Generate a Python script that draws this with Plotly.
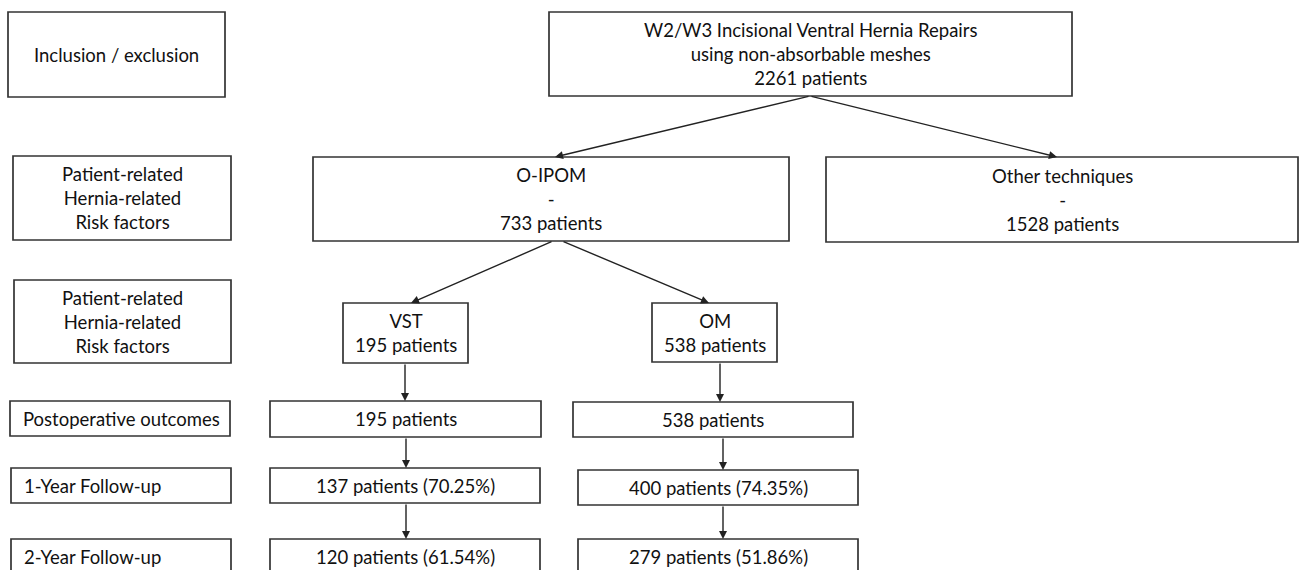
import plotly.graph_objects as go

# ---- data ----
stage_labels = [
    "Inclusion / exclusion",
    "Patient-related<br>Hernia-related<br>Risk factors",
    "Patient-related<br>Hernia-related<br>Risk factors",
    "Postoperative outcomes",
    "1-Year Follow-up",
    "2-Year Follow-up",
]
total_title = "W2/W3 Incisional Ventral Hernia Repairs<br>using non-absorbable meshes"
total_patients = 2261
group_names = ["O-IPOM", "Other techniques"]
group_counts = [733, 1528]
subgroup_names = ["VST", "OM"]
subgroup_counts = [195, 538]
postop_counts = [195, 538]
fu1_counts = [137, 400]
fu1_pct = [70.25, 74.35]
fu2_counts = [120, 279]
fu2_pct = [61.54, 51.86]

# ---- layout geometry (pixels; x right, y down) ----
W, H = 1301, 570
FONT = dict(family="Lato, 'Open Sans', sans-serif", size=18.5, color="#111111")
LINE = dict(color="#333333", width=1.7)

stage_boxes = [
    (8, 12, 225, 97),
    (13, 156, 231, 240),
    (14, 280, 231, 363),
    (10, 401, 230, 436),
    (11, 468, 231, 503),
    (11, 539, 231, 580),
]
stage_align = ["center", "center", "center", "left", "left", "left"]

top_box = (549, 12, 1072, 96)
group_boxes = [(313, 157, 789, 241), (826, 157, 1298, 242)]
sub_boxes = [(343, 303, 468, 363), (652, 303, 777, 362)]
postop_boxes = [(270, 401, 541, 437), (573, 402, 853, 437)]
fu1_boxes = [(270, 468, 540, 503), (578, 470, 858, 505)]
fu2_boxes = [(270, 539, 540, 580), (578, 539, 858, 580)]

fig = go.Figure()
shapes = []
annotations = []


def box(b, text, align="center"):
    x0, y0, x1, y1 = b
    shapes.append(dict(type="rect", xref="x", yref="y", x0=x0, y0=y0, x1=x1, y1=y1,
                       line=LINE, fillcolor="rgba(0,0,0,0)", layer="above"))
    yc = (y0 + y1) / 2
    if y1 > H:
        yc = y0 + 18
    if align == "center":
        annotations.append(dict(x=(x0 + x1) / 2, y=yc, xref="x", yref="y", text=text,
                                showarrow=False, font=FONT, xanchor="center",
                                yanchor="middle", align="center"))
    else:
        annotations.append(dict(x=x0 + 11, y=yc, xref="x", yref="y", text=text,
                                showarrow=False, font=FONT, xanchor="left",
                                yanchor="middle", align="left"))


def arrow(x0, y0, x1, y1):
    annotations.append(dict(x=x1, y=y1, ax=x0, ay=y0, xref="x", yref="y",
                            axref="x", ayref="y", text="", showarrow=True,
                            arrowhead=2, arrowsize=1.15, arrowwidth=1.4,
                            arrowcolor="#222222", standoff=0))


for b, t, a in zip(stage_boxes, stage_labels, stage_align):
    box(b, t, a)

box(top_box, f"{total_title}<br>{total_patients} patients")
for b, n, c in zip(group_boxes, group_names, group_counts):
    box(b, f"{n}<br>-<br>{c} patients")
for b, n, c in zip(sub_boxes, subgroup_names, subgroup_counts):
    box(b, f"{n}<br>{c} patients")
for b, c in zip(postop_boxes, postop_counts):
    box(b, f"{c} patients")
for b, c, p in zip(fu1_boxes, fu1_counts, fu1_pct):
    box(b, f"{c} patients ({p:.2f}%)")
for b, c, p in zip(fu2_boxes, fu2_counts, fu2_pct):
    box(b, f"{c} patients ({p:.2f}%)")

# arrows
arrow(810, 96, 555, 157)
arrow(810, 96, 1057, 157)
arrow(553, 241, 411, 303)
arrow(562, 241, 709, 303)
arrow(405, 363, 405, 401)
arrow(406, 437, 406, 468)
arrow(406, 503, 406, 539)
arrow(720, 362, 720, 402)
arrow(723, 437, 723, 470)
arrow(723, 505, 723, 539)

fig.update_layout(
    width=W, height=H,
    margin=dict(l=0, r=0, t=0, b=0),
    paper_bgcolor="white", plot_bgcolor="white",
    xaxis=dict(range=[0, W], visible=False, fixedrange=True),
    yaxis=dict(range=[H, 0], visible=False, fixedrange=True),
    shapes=shapes, annotations=annotations, showlegend=False,
)
fig.write_html(
    "out.html",
    config=dict(displayModeBar=False),
    post_script="document.body.style.margin='0';document.body.style.overflow='hidden';",
)
